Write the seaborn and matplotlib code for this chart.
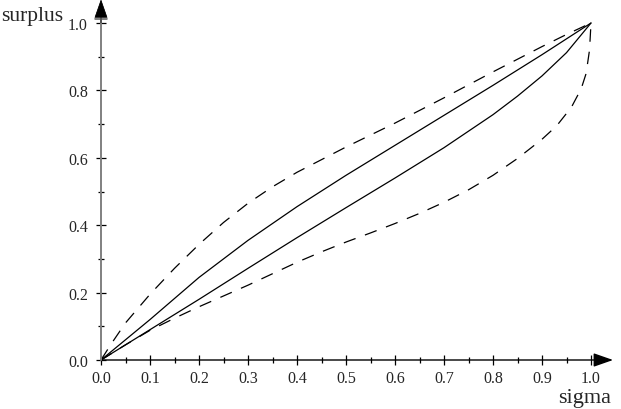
import matplotlib
matplotlib.use("Agg")
import matplotlib.pyplot as plt
import numpy as np
import pandas as pd
import seaborn as sns

# curve data
upper_dash_x = [0, 0.02, 0.05, 0.1, 0.15, 0.2, 0.25, 0.3, 0.35, 0.4, 0.5, 0.6, 0.7, 0.8, 0.9, 0.95, 1.0]
upper_dash_y = [0, 0.046, 0.11, 0.195, 0.272, 0.343, 0.408, 0.465, 0.514, 0.557, 0.632, 0.703, 0.778, 0.855, 0.93, 0.966, 1.0]

upper_solid_x = [0, 0.05, 0.1, 0.2, 0.3, 0.4, 0.5, 0.6, 0.7, 0.8, 0.9, 1.0]
upper_solid_y = [0, 0.06, 0.12, 0.245, 0.355, 0.455, 0.548, 0.637, 0.726, 0.815, 0.906, 1.0]

lower_solid_x = [0, 0.1, 0.2, 0.3, 0.4, 0.5, 0.6, 0.7, 0.8, 0.85, 0.9, 0.95, 1.0]
lower_solid_y = [0, 0.09, 0.18, 0.272, 0.363, 0.452, 0.540, 0.630, 0.728, 0.783, 0.843, 0.912, 1.0]

lower_dash_x = [0, 0.05, 0.1, 0.15, 0.2, 0.25, 0.3, 0.35, 0.4, 0.45, 0.5, 0.55, 0.6, 0.65,
                0.7, 0.75, 0.8, 0.85, 0.9, 0.93, 0.96, 0.98, 0.99, 0.997, 1.0]
lower_dash_y = [0, 0.045, 0.088, 0.124, 0.158, 0.19, 0.222, 0.256, 0.29, 0.321, 0.35, 0.377, 0.405, 0.435,
                0.468, 0.505, 0.548, 0.598, 0.655, 0.695, 0.75, 0.805, 0.85, 0.92, 1.0]

x_ticks = [0.0, 0.1, 0.2, 0.3, 0.4, 0.5, 0.6, 0.7, 0.8, 0.9, 1.0]
y_ticks = [0.0, 0.2, 0.4, 0.6, 0.8, 1.0]

sns.set_theme(style="white")
plt.rcParams["font.family"] = ["Liberation Serif", "DejaVu Serif"]

fig = plt.figure(figsize=(6.21, 4.10), dpi=100)
W, H = 621, 410
x0, x1 = 101, 591
y0, y1 = 361, 24
ax = fig.add_axes([x0 / W, 1 - y0 / H, (x1 - x0) / W, (y0 - y1) / H])
ax.set_xlim(0, 1)
ax.set_ylim(0, 1)

curves = [
    (upper_dash_x, upper_dash_y, (0, (10, 8))),
    (upper_solid_x, upper_solid_y, "-"),
    (lower_solid_x, lower_solid_y, "-"),
    (lower_dash_x, lower_dash_y, (0, (10, 8))),
]
for cx, cy, ls in curves:
    d = pd.DataFrame({"x": cx, "y": cy})
    sns.lineplot(data=d, x="x", y="y", ax=ax, color="black", linewidth=0.9,
                 linestyle=ls, sort=False, estimator=None, clip_on=False)

for s in ax.spines.values():
    s.set_visible(False)

# axis lines with arrowheads
ax.annotate("", xy=(1.045, 0), xytext=(0, 0), xycoords="data",
            arrowprops=dict(arrowstyle="-|>,head_length=1.0,head_width=0.35",
                            color="black", lw=1.0, shrinkA=0, shrinkB=0),
            annotation_clip=False)
ax.annotate("", xy=(0, 1.07), xytext=(0, 0), xycoords="data",
            arrowprops=dict(arrowstyle="-|>,head_length=1.0,head_width=0.35",
                            color="#808080", lw=1.4, shrinkA=0, shrinkB=0),
            annotation_clip=False)
ax.annotate("", xy=(0, 1.07), xytext=(0, 1.0), xycoords="data",
            arrowprops=dict(arrowstyle="-|>,head_length=1.0,head_width=0.35",
                            color="black", lw=0.5, shrinkA=0, shrinkB=0),
            annotation_clip=False)

ax.set_xticks(x_ticks)
ax.set_xticklabels([f"{t:.1f}" for t in x_ticks])
ax.set_yticks(y_ticks)
ax.set_yticklabels([f"{t:.1f}" for t in y_ticks])
ax.set_xticks(np.arange(0.05, 1.0, 0.1), minor=True)
ax.set_yticks(np.arange(0.1, 1.0, 0.2), minor=True)
ax.tick_params(axis="both", which="major", direction="inout", length=7, width=0.9,
               color="black", labelsize=11.5, bottom=True, left=True)
ax.tick_params(axis="both", which="minor", direction="inout", length=4, width=0.9,
               color="black", bottom=True, left=True)
ax.tick_params(axis="x", which="major", pad=4)
ax.tick_params(axis="y", which="major", pad=6)
ax.set_xlabel("")
ax.set_ylabel("")

fig.text(1 / W, 1 - 17 / H, "surplus", fontsize=15.5, ha="left", va="center")
fig.text(585 / W, 1 - 399 / H, "sigma", fontsize=16, ha="center", va="center")

fig.savefig("out.png", dpi=100)
